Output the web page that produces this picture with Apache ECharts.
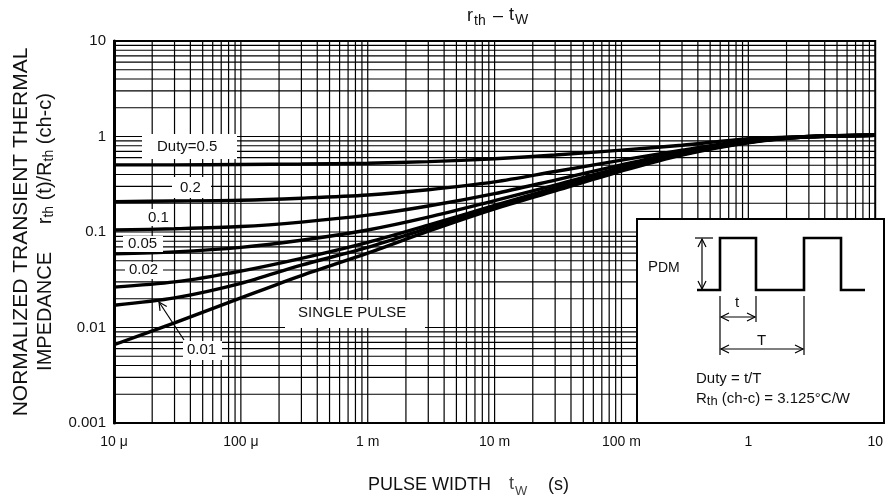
<!DOCTYPE html>
<html><head><meta charset="utf-8">
<script src="https://cdn.jsdelivr.net/npm/echarts@6/dist/echarts.min.js"></script>
<style>html,body{margin:0;padding:0;background:#fff}#c{width:886px;height:495px}</style>
</head><body><div id="c"></div>
<script>
// ---- data ----
const pulseWidth = [1e-5, 3e-5, 1e-4, 3e-4, 1e-3, 3e-3, 1e-2, 3e-2, 0.1, 0.3, 1, 3, 10];
const duty05  = [0.505, 0.505, 0.51, 0.515, 0.525, 0.545, 0.585, 0.64, 0.72, 0.81, 0.95, 1.0, 1.04];
const duty02  = [0.208, 0.211, 0.215, 0.226, 0.244, 0.277, 0.335, 0.43, 0.565, 0.72, 0.91, 1.0, 1.03];
const duty01  = [0.105, 0.108, 0.114, 0.127, 0.15, 0.187, 0.252, 0.35, 0.505, 0.69, 0.89, 1.0, 1.03];
const duty005 = [0.059, 0.062, 0.069, 0.082, 0.105, 0.143, 0.213, 0.31, 0.475, 0.67, 0.88, 0.99, 1.03];
const duty002 = [0.0265, 0.030, 0.039, 0.053, 0.078, 0.118, 0.19, 0.29, 0.455, 0.66, 0.87, 0.99, 1.03];
const duty001 = [0.0171, 0.0204, 0.029, 0.045, 0.069, 0.11, 0.184, 0.28, 0.445, 0.65, 0.87, 0.99, 1.03];
const singlePulse = [0.0066, 0.0112, 0.0204, 0.035, 0.06, 0.102, 0.175, 0.27, 0.435, 0.64, 0.86, 0.99, 1.03];

const xTickLabels = ['10 μ', '100 μ', '1 m', '10 m', '100 m', '1', '10'];
const xTickExp0 = -5;
const yTickLabels = ['0.001', '0.01', '0.1', '1', '10'];
const yTickExp0 = -3;
const gridMultipliers = [1, 2, 3, 4, 5, 6, 7, 8, 9];

// ---- build ----
const FONT = '"Liberation Sans", Arial, sans-serif';
const xMin = Math.pow(10, xTickExp0), xMax = Math.pow(10, xTickExp0 + xTickLabels.length - 1);
const yMin = Math.pow(10, yTickExp0), yMax = Math.pow(10, yTickExp0 + yTickLabels.length - 1);
function pairs(ys) { return pulseWidth.map((t, i) => [t, ys[i]]); }
function logGrid(exp0, nDec) {
  const out = [];
  for (let d = 0; d < nDec; d++) {
    for (const m of gridMultipliers) {
      if (d === 0 && m === 1) continue;
      out.push(m * Math.pow(10, exp0 + d));
    }
  }
  return out;
}
const xGrid = logGrid(xTickExp0, xTickLabels.length - 1);
const yGrid = logGrid(yTickExp0, yTickLabels.length - 1);

const curveSeries = [duty05, duty02, duty01, duty005, duty002, duty001, singlePulse].map((ys, i) => ({
  type: 'line', name: 'c' + i, data: pairs(ys), smooth: 0.3, showSymbol: false, z: 20,
  lineStyle: { color: '#000', width: 3.4 }, silent: true
}));

function gridLineSeries(vertical) {
  return {
    type: 'custom', silent: true, z: 1, clip: false,
    data: vertical ? xGrid.map(v => [v, yMin]) : yGrid.map(v => [xMin, v]),
    encode: { x: 0, y: 1 },
    renderItem: function (params, api) {
      const a = vertical ? [api.value(0), yMin] : [xMin, api.value(1)];
      const b = vertical ? [api.value(0), yMax] : [xMax, api.value(1)];
      const p1 = api.coord(a), p2 = api.coord(b);
      return { type: 'line', shape: { x1: p1[0], y1: p1[1], x2: p2[0], y2: p2[1] },
        style: { stroke: '#000', lineWidth: 1.2 } };
    }
  };
}

function txt(x, y, text, size, extra) {
  return Object.assign({ type: 'text', x: x, y: y, z: 60,
    style: Object.assign({ text: text, fontSize: size, fontFamily: FONT, fill: '#111',
      align: 'left', verticalAlign: 'middle' }, (extra && extra.style) || {}) },
    extra && extra.el || {});
}
function box(x, y, w, h, stroke) {
  return { type: 'rect', z: 50, shape: { x: x, y: y, width: w, height: h },
    style: { fill: '#fff', stroke: stroke || null, lineWidth: stroke ? 2 : 0 } };
}
function seg(pts, w) {
  return { type: 'polyline', z: 61, shape: { points: pts }, style: { stroke: '#000', fill: null, lineWidth: w || 1.2 } };
}
function head(tx, ty, fx, fy) {
  const dx = tx - fx, dy = ty - fy, L = Math.hypot(dx, dy), ux = dx / L, uy = dy / L;
  const len = 8, w = 4, bx = tx - ux * len, by = ty - uy * len;
  return seg([[bx - uy * w, by + ux * w], [tx, ty], [bx + uy * w, by - ux * w]], 1.2);
}
function dblArrow(x1, y1, x2, y2) {
  return [seg([[x1, y1], [x2, y2]]), head(x1, y1, x2, y2), head(x2, y2, x1, y1)];
}

const subRich = { s: { fontSize: 14, lineHeight: 14, verticalAlign: 'bottom', fontFamily: FONT, fill: '#111' },
                  n: { fontSize: 20, lineHeight: 22, fontFamily: FONT, fill: '#111' } };

const graphics = [
  // curve labels
  box(142, 134, 95, 25), txt(157, 147, 'Duty=0.5', 15),
  box(172, 177, 39, 21), txt(180, 188, '0.2', 15),
  box(143, 209, 29, 17), txt(148, 218, '0.1', 15),
  box(123, 236, 40, 16), txt(128, 244, '0.05', 15),
  box(125, 262, 38, 17), txt(129, 270, '0.02', 15),
  box(183, 341, 39, 19), txt(187, 350, '0.01', 15),
  box(285, 300, 140, 28), txt(298, 313, 'SINGLE PULSE', 15),
  seg([[184, 340], [159, 302]]), head(159, 302, 184, 340),
  // inset
  box(637, 219, 247, 204, '#000'),
  seg([[697, 290], [720, 290], [720, 238], [756, 238], [756, 290], [804, 290], [804, 238], [841, 238], [841, 290], [865, 290]], 2.6),
  seg([[695, 238], [713, 238]]),
  ...dblArrow(702, 239, 702, 289),
  seg([[720, 296], [720, 355]]), seg([[756, 296], [756, 322]]), seg([[804, 296], [804, 355]]),
  ...dblArrow(721, 317, 755, 317),
  ...dblArrow(721, 349, 803, 349),
  txt(648, 267, 'P{d|DM}', 15, { style: { rich: { d: { fontSize: 14, fontFamily: FONT, fill: '#111', padding: [3, 0, 0, 0] } } } }),
  txt(735, 303, 't', 15), txt(757, 341, 'T', 15),
  txt(696, 379, 'Duty = t/T', 15),
  txt(696, 399, 'R{s|th} (ch-c) = 3.125°C/W', 15, { style: { lineHeight: 18,
    rich: { s: { fontSize: 13, lineHeight: 13, verticalAlign: 'bottom', fontFamily: FONT, fill: '#111' } } } }),
  // title
  txt(467, 16, 'r', 18), txt(474, 21, 'th', 14), txt(493, 16, '–', 18), txt(509, 15, 't', 18), txt(515, 20, 'W', 14),
  // x axis title
  txt(368, 485, 'PULSE WIDTH', 18), txt(509, 484, 't', 18, { style: { fill: '#444' } }),
  txt(515, 491, 'W', 13, { style: { fill: '#444' } }), txt(548, 485, '(s)', 18),
  // y axis title
  txt(21, 232, 'NORMALIZED TRANSIENT THERMAL', 21, { style: { align: 'center' }, el: { rotation: Math.PI / 2 } }),
  txt(45, 232, '{n|IMPEDANCE     r}{s|th}{n| (t)/R}{s|th}{n| (ch-c)}', 20,
    { style: { align: 'center', rich: subRich }, el: { rotation: Math.PI / 2 } })
];

const chart = echarts.init(document.getElementById('c'), null, { renderer: 'canvas' });
chart.setOption({
  animation: false,
  backgroundColor: '#fff',
  grid: { left: 114, right: 3, top: 41, bottom: 72, show: true, borderColor: '#000', borderWidth: 2 },
  xAxis: {
    type: 'log', logBase: 10, min: xMin, max: xMax,
    axisLine: { show: true, lineStyle: { color: '#000', width: 2 } },
    axisTick: { show: false }, splitLine: { show: false },
    axisLabel: { margin: 12, fontSize: 14, fontFamily: FONT, color: '#111',
      alignMinLabel: 'center', alignMaxLabel: 'center', hideOverlap: false,
      formatter: v => xTickLabels[Math.round(Math.log10(v)) - xTickExp0] || '' }
  },
  yAxis: {
    type: 'log', logBase: 10, min: yMin, max: yMax,
    axisLine: { show: true, lineStyle: { color: '#000', width: 3 } },
    axisTick: { show: false }, splitLine: { show: false },
    axisLabel: { margin: 8, fontSize: 15, fontFamily: FONT, color: '#111',
      formatter: v => yTickLabels[Math.round(Math.log10(v)) - yTickExp0] || '' }
  },
  series: [gridLineSeries(true), gridLineSeries(false)].concat(curveSeries),
  graphic: graphics
});
</script></body></html>
